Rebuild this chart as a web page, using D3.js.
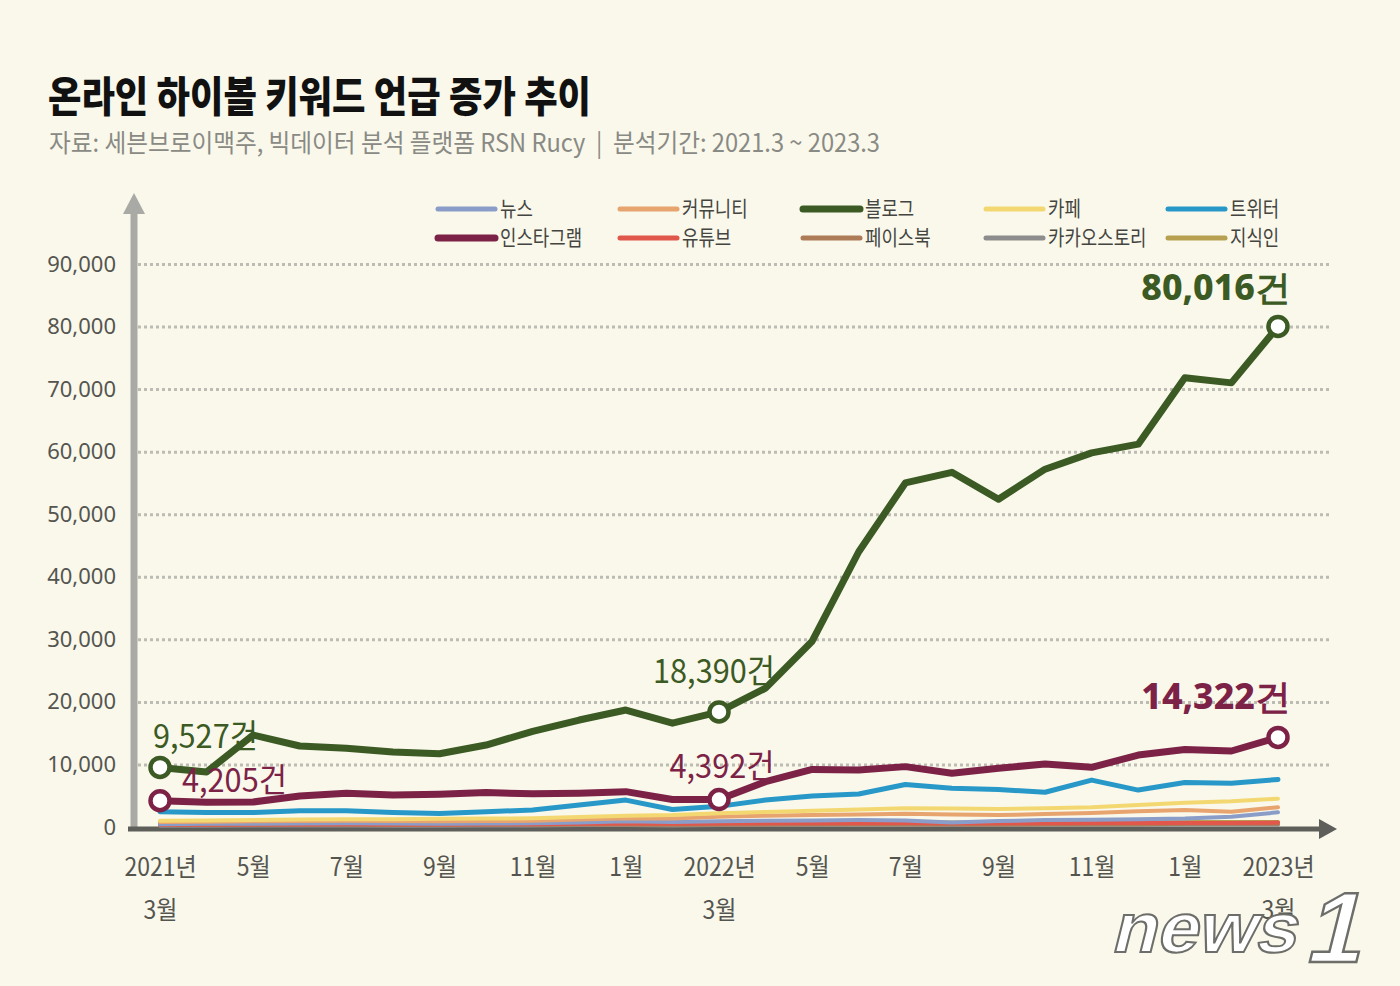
<!DOCTYPE html>
<html>
<head>
<meta charset="utf-8">
<title>온라인 하이볼 키워드 언급 증가 추이</title>
<script src="https://cdn.jsdelivr.net/npm/d3@7"></script>
<style>
  html, body { margin: 0; padding: 0; background: #f9f8eb; }
  svg { display: block; }
  .kr { font-family: "Noto Sans CJK KR", "Noto Sans", sans-serif; }
  .num { font-family: "Noto Sans", "Lato", sans-serif; }
</style>
</head>
<body>
<svg id="chart" width="1400" height="986"></svg>
<script>
// months 2021.3 ~ 2023.3
var months = ["2021-03","2021-04","2021-05","2021-06","2021-07","2021-08","2021-09","2021-10","2021-11","2021-12",
              "2022-01","2022-02","2022-03","2022-04","2022-05","2022-06","2022-07","2022-08","2022-09","2022-10","2022-11","2022-12",
              "2023-01","2023-02","2023-03"];

var blog      = [9527, 8800, 14700, 12950, 12600, 12000, 11700, 13100, 15300, 17100, 18700, 16600, 18390, 22200, 29700, 44000, 55000, 56700, 52400, 57200, 59800, 61200, 71800, 71000, 80016];
var instagram = [4205, 3950, 4000, 4950, 5400, 5100, 5250, 5500, 5300, 5400, 5650, 4400, 4392, 7250, 9200, 9100, 9650, 8600, 9400, 10070, 9540, 11500, 12400, 12150, 14322];
var twitter   = [2450, 2300, 2300, 2600, 2600, 2300, 2150, 2450, 2700, 3500, 4300, 2800, 3300, 4300, 4950, 5270, 6800, 6200, 6000, 5550, 7500, 5900, 7100, 7000, 7600];
var cafe      = [1000, 1050, 1100, 1200, 1250, 1250, 1300, 1350, 1400, 1600, 1800, 1900, 2200, 2400, 2600, 2800, 3000, 2950, 2880, 2980, 3150, 3500, 3880, 4100, 4530];
var community = [800, 850, 900, 950, 1000, 950, 900, 950, 1000, 1200, 1400, 1350, 1650, 1800, 1900, 2000, 2100, 2000, 1900, 2070, 2250, 2500, 2700, 2450, 3150];
var news      = [450, 500, 500, 550, 600, 550, 500, 550, 600, 700, 900, 800, 900, 1000, 1050, 1100, 1050, 700, 950, 1100, 1150, 1250, 1350, 1650, 2340];
var youtube   = [350, 350, 400, 400, 450, 400, 400, 450, 450, 500, 550, 500, 550, 600, 600, 600, 650, 600, 600, 600, 650, 650, 650, 650, 700];
var facebook  = [300, 300, 300, 350, 350, 300, 300, 350, 350, 400, 400, 350, 400, 400, 450, 450, 450, 400, 400, 450, 450, 450, 500, 500, 500];
var kakao     = [200, 200, 250, 250, 250, 200, 200, 250, 250, 300, 300, 250, 300, 300, 300, 350, 350, 300, 300, 350, 350, 350, 400, 400, 400];
var jisikin   = [600, 600, 650, 650, 650, 600, 600, 650, 650, 700, 700, 650, 700, 700, 750, 750, 750, 700, 700, 750, 750, 750, 800, 800, 800];

var seriesNames = ["뉴스", "커뮤니티", "블로그", "카페", "트위터", "인스타그램", "유튜브", "페이스북", "카카오스토리", "지식인"];
var seriesData  = [news, community, blog, cafe, twitter, instagram, youtube, facebook, kakao, jisikin];
var seriesColors = ["#8a9dc8", "#e8a46e", "#3c5a23", "#f3d872", "#2798c8", "#7d2247", "#e2574b", "#ad7b56", "#8d8d8d", "#b7a150"];
var seriesWidths = [4, 4, 7, 4, 5, 7, 4, 4, 4, 4];
// drawing order (bottom first)
var drawOrder = [8, 7, 9, 6, 0, 1, 3, 4, 5, 2];

var yTicks = [0, 10000, 20000, 30000, 40000, 50000, 60000, 70000, 80000, 90000];
var xTickIdx = [0, 2, 4, 6, 8, 10, 12, 14, 16, 18, 20, 22, 24];
var xTickTop = ["2021년", "5월", "7월", "9월", "11월", "1월", "2022년", "5월", "7월", "9월", "11월", "1월", "2023년"];
var xTickBottom = ["3월", "", "", "", "", "", "3월", "", "", "", "", "", "3월"];

// highlighted points: [series index, month index, label, bold]
var callouts = [
  [2, 0, "9,527건", false],
  [5, 0, "4,205건", false],
  [2, 12, "18,390건", false],
  [5, 12, "4,392건", false],
  [2, 24, "80,016건", true],
  [5, 24, "14,322건", true]
];

var svg = d3.select("#chart");

// squeeze text horizontally like the condensed gothic in the original
function condense(sel, k) {
  sel.each(function() {
    var w = this.getComputedTextLength();
    d3.select(this).attr("textLength", w * k).attr("lengthAdjust", "spacingAndGlyphs");
  });
}

svg.append("rect").attr("width", 1400).attr("height", 986).attr("fill", "#f9f8eb");

// title
svg.append("text").attr("class", "kr")
  .attr("x", 48).attr("y", 112)
  .attr("font-size", 42).attr("font-weight", 900).attr("fill", "#111")
  .text("온라인 하이볼 키워드 언급 증가 추이")
  .attr("textLength", 543).attr("lengthAdjust", "spacingAndGlyphs");

svg.append("text").attr("class", "kr")
  .attr("x", 49).attr("y", 152)
  .attr("font-size", 25).attr("fill", "#8a8a85")
  .text("자료: 세븐브로이맥주, 빅데이터 분석 플랫폼 RSN Rucy \u00a0|\u00a0 분석기간: 2021.3 ~ 2023.3")
  .attr("textLength", 831).attr("lengthAdjust", "spacingAndGlyphs");

var x = d3.scaleLinear().domain([0, months.length - 1]).range([160, 1278]);
var y = d3.scaleLinear().domain([0, 90000]).range([827, 264]);

// gridlines + y labels
var yAxis = svg.append("g")
  .attr("transform", "translate(138,0)")
  .call(d3.axisRight(y).tickValues(yTicks).tickSize(1192).tickFormat(d3.format(",")));
yAxis.select(".domain").remove();
yAxis.selectAll(".tick line")
  .attr("stroke", "#bdbcb4").attr("stroke-width", 3).attr("stroke-dasharray", "3,3")
  .filter(function(d) { return d === 0; }).remove();
yAxis.selectAll(".tick text")
  .attr("class", "num")
  .attr("x", -22).attr("text-anchor", "end")
  .attr("font-size", 22).attr("fill", "#555550");

// y axis arrow
svg.append("line").attr("x1", 134).attr("x2", 134).attr("y1", 831).attr("y2", 210)
  .attr("stroke", "#a9a9a6").attr("stroke-width", 7);
svg.append("path").attr("d", "M123,214 L145,214 L134,193 Z").attr("fill", "#a9a9a6");

// x axis
var xAxis = svg.append("g")
  .attr("transform", "translate(0,829)")
  .call(d3.axisBottom(x).tickValues(xTickIdx).tickSize(0).tickPadding(0)
    .tickFormat(function(d, i) { return xTickTop[i]; }));
xAxis.select(".domain").remove();
xAxis.selectAll(".tick text")
  .attr("class", "kr").attr("y", 47).attr("dy", 0)
  .attr("font-size", 25).attr("fill", "#555550")
  .call(condense, 0.92);
xAxis.selectAll(".tick").append("text")
  .attr("class", "kr").attr("y", 90)
  .attr("text-anchor", "middle").attr("font-size", 25).attr("fill", "#555550")
  .text(function(d, i) { return xTickBottom[i]; })
  .call(condense, 0.92);

svg.append("line").attr("x1", 128).attr("x2", 1324).attr("y1", 829).attr("y2", 829)
  .attr("stroke", "#5e5e5a").attr("stroke-width", 5);
svg.append("path").attr("d", "M1319,819 L1337,829 L1319,839 Z").attr("fill", "#5e5e5a");

// lines
var line = d3.line()
  .x(function(d, i) { return x(i); })
  .y(function(d) { return y(d); });

svg.append("g").selectAll("path")
  .data(drawOrder)
  .join("path")
  .attr("d", function(k) { return line(seriesData[k]); })
  .attr("fill", "none")
  .attr("stroke", function(k) { return seriesColors[k]; })
  .attr("stroke-width", function(k) { return seriesWidths[k]; })
  .attr("stroke-linejoin", "round")
  .attr("stroke-linecap", "round");

// markers
svg.append("g").selectAll("circle")
  .data(callouts)
  .join("circle")
  .attr("cx", function(c) { return x(c[1]); })
  .attr("cy", function(c) { return y(seriesData[c[0]][c[1]]); })
  .attr("r", 9.5)
  .attr("fill", "#ffffff")
  .attr("stroke", function(c) { return seriesColors[c[0]]; })
  .attr("stroke-width", 4.5);

// callout labels
var labelPos = [
  [153, 748, "start"],
  [182, 792, "start"],
  [714, 683, "middle"],
  [722, 778, "middle"],
  [1216, 300, "middle"],
  [1216, 709, "middle"]
];
svg.append("g").selectAll("text")
  .data(callouts)
  .join("text")
  .attr("class", function(c) { return c[3] ? "num" : "kr"; })
  .attr("x", function(c, i) { return labelPos[i][0]; })
  .attr("y", function(c, i) { return labelPos[i][1]; })
  .attr("text-anchor", function(c, i) { return labelPos[i][2]; })
  .attr("font-size", function(c) { return c[3] ? 35 : 33; })
  .attr("font-weight", function(c) { return c[3] ? 800 : 400; })
  .attr("fill", function(c) { return seriesColors[c[0]]; })
  .text(function(c) { return c[2]; })
  .each(function(c) {
    d3.select(this).call(condense, c[3] ? 1.02 : 0.93);
  });

// legend
var legendCols = [435, 617, 800, 983, 1165];
var legendRows = [209, 238];
var legend = svg.append("g").selectAll("g")
  .data(seriesNames)
  .join("g")
  .attr("transform", function(d, i) {
    return "translate(" + legendCols[i % 5] + "," + legendRows[Math.floor(i / 5)] + ")";
  });
legend.append("line")
  .attr("x1", 3).attr("x2", 60).attr("y1", 0).attr("y2", 0)
  .attr("stroke", function(d, i) { return seriesColors[i]; })
  .attr("stroke-width", function(d, i) { return i === 2 || i === 5 ? 7 : 5; })
  .attr("stroke-linecap", "round");
legend.append("text")
  .attr("class", "kr")
  .attr("x", 65).attr("y", 7)
  .attr("font-size", 21).attr("fill", "#444440")
  .text(function(d) { return d; })
  .call(condense, 0.85);

// news1 watermark
var wm = svg.append("g").attr("transform", "translate(1110,952) skewX(-14)");
wm.append("text")
  .attr("font-family", "Liberation Sans, sans-serif").attr("font-weight", 700)
  .attr("font-size", 70).attr("fill", "#ffffff").attr("stroke", "#6d6d6a").attr("stroke-width", 2)
  .attr("textLength", 185).attr("lengthAdjust", "spacingAndGlyphs")
  .text("news");
wm.append("text")
  .attr("x", 196).attr("y", 10)
  .attr("font-family", "Liberation Sans, sans-serif").attr("font-weight", 700)
  .attr("font-size", 100).attr("fill", "#ffffff").attr("stroke", "#6d6d6a").attr("stroke-width", 2.5)
  .text("1");
</script>
</body>
</html>
